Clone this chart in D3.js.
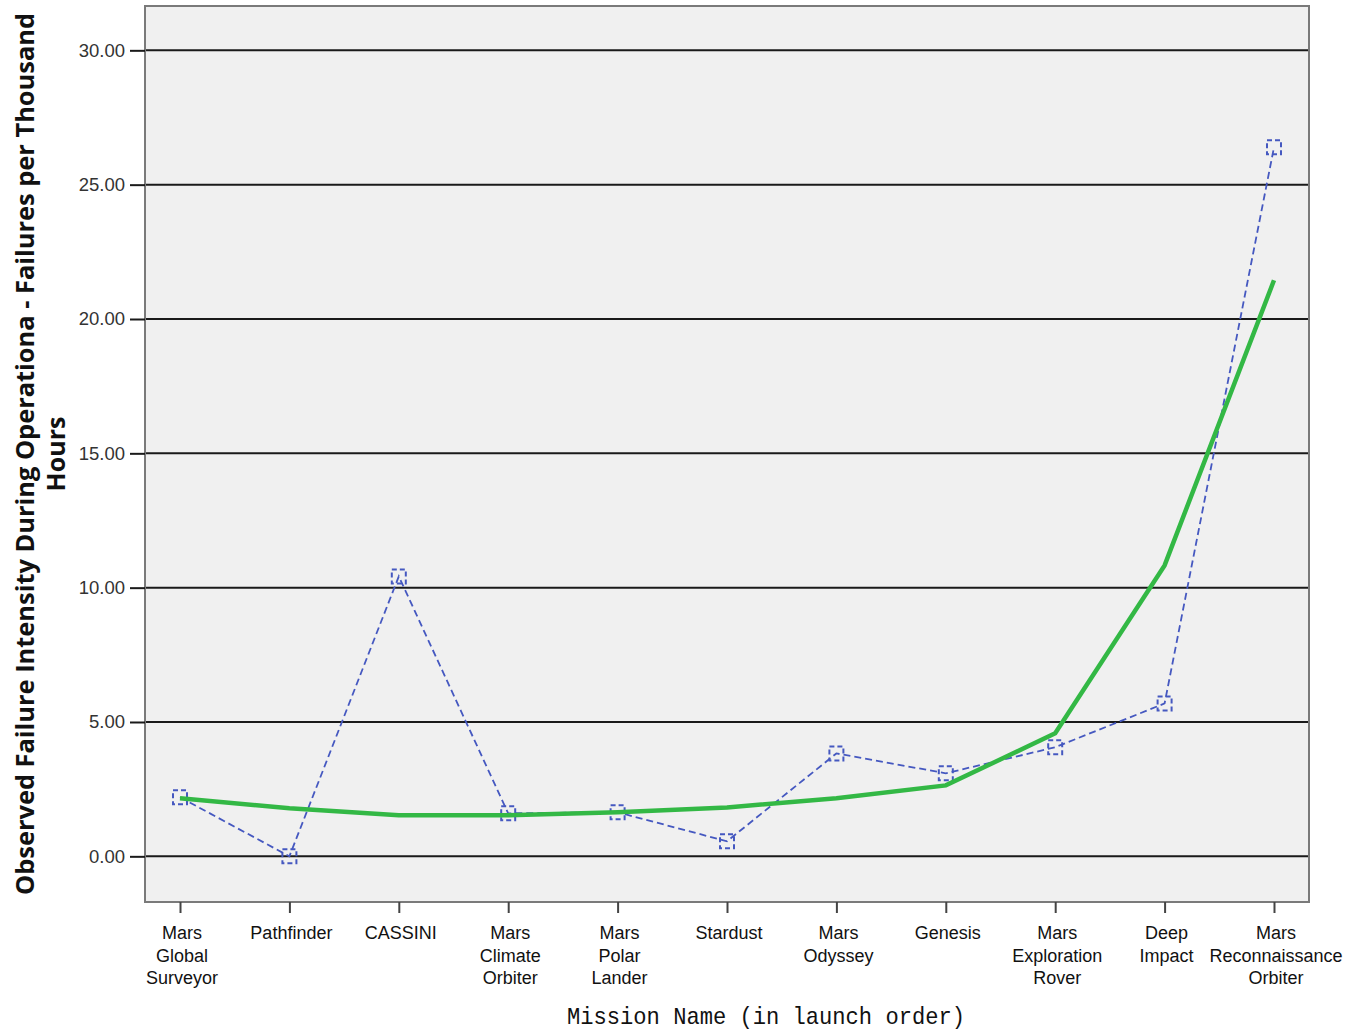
<!DOCTYPE html>
<html>
<head>
<meta charset="utf-8">
<script src="https://cdn.jsdelivr.net/npm/d3@7"></script>
<style>
  html, body { margin: 0; padding: 0; background: #ffffff; }
  svg { display: block; }
</style>
</head>
<body>
<svg id="chart" width="1348" height="1031"></svg>
<script>
// Missions in launch order
const missions = [
  ["Mars", "Global", "Surveyor"],
  ["Pathfinder"],
  ["CASSINI"],
  ["Mars", "Climate", "Orbiter"],
  ["Mars", "Polar", "Lander"],
  ["Stardust"],
  ["Mars", "Odyssey"],
  ["Genesis"],
  ["Mars", "Exploration", "Rover"],
  ["Deep", "Impact"],
  ["Mars", "Reconnaissance", "Orbiter"]
];
const missionKeys = missions.map(m => m.join(" "));

// Observed failure intensity (failures per thousand operational hours)
const observed = [2.20, 0.00, 10.42, 1.60, 1.64, 0.56, 3.83, 3.09, 4.06, 5.69, 26.39];
// Fitted trend
const fitted = [2.16, 1.79, 1.53, 1.53, 1.64, 1.82, 2.16, 2.64, 4.58, 10.83, 21.44];

const yTicks = [0, 5, 10, 15, 20, 25, 30];

const plot = { left: 145, right: 1309, top: 6, bottom: 902 };

const svg = d3.select("#chart");

const x = d3.scalePoint()
  .domain(missionKeys)
  .range([plot.left, plot.right])
  .padding(0.32);

const y = d3.scaleLinear()
  .domain([-1.7, 31.65])
  .range([plot.bottom, plot.top]);

// Plot background
svg.append("rect")
  .attr("x", plot.left).attr("y", plot.top)
  .attr("width", plot.right - plot.left)
  .attr("height", plot.bottom - plot.top)
  .attr("fill", "#f0f0f0");

// Horizontal grid lines
svg.append("g")
  .selectAll("line")
  .data(yTicks)
  .join("line")
  .attr("x1", plot.left).attr("x2", plot.right)
  .attr("y1", d => y(d)).attr("y2", d => y(d))
  .attr("stroke", "#1a1a1a")
  .attr("stroke-width", 2);

// Plot frame
svg.append("rect")
  .attr("x", plot.left).attr("y", plot.top)
  .attr("width", plot.right - plot.left)
  .attr("height", plot.bottom - plot.top)
  .attr("fill", "none")
  .attr("stroke", "#7a7a7a")
  .attr("stroke-width", 2);

// Y axis
const yAxis = d3.axisLeft(y)
  .tickValues(yTicks)
  .tickFormat(d3.format(".2f"))
  .tickSize(15)
  .tickPadding(5);
const gy = svg.append("g")
  .attr("transform", `translate(${plot.left},0)`)
  .call(yAxis);
gy.select(".domain").remove();
gy.selectAll(".tick line").attr("stroke", "#1a1a1a").attr("stroke-width", 2);
gy.selectAll(".tick text")
  .attr("fill", "#333")
  .style("font-family", "'Liberation Sans', Arial, sans-serif")
  .style("font-size", "18.5px");

// X axis
const xAxis = d3.axisBottom(x).tickSize(11).tickFormat("");
const gx = svg.append("g")
  .attr("transform", `translate(0,${plot.bottom})`)
  .call(xAxis);
gx.select(".domain").remove();
gx.selectAll(".tick line").attr("stroke", "#444").attr("stroke-width", 2);

// Multi-line category labels
const labels = svg.append("g")
  .style("font-family", "'Liberation Sans', Arial, sans-serif")
  .style("font-size", "18px")
  .attr("fill", "#111");
missions.forEach((lines, i) => {
  const cx = x(missionKeys[i]) + 2;
  const t = labels.append("text")
    .attr("text-anchor", "middle")
    .attr("x", cx)
    .attr("y", 939);
  lines.forEach((ln, j) => {
    t.append("tspan")
      .attr("x", cx)
      .attr("dy", j === 0 ? 0 : 22.5)
      .text(ln);
  });
});

// Observed series: dashed line with dashed square markers
const pts = observed.map((v, i) => [x(missionKeys[i]), y(v)]);
const blue = "#4558c0";
svg.append("path")
  .attr("d", d3.line()(pts))
  .attr("fill", "none")
  .attr("stroke", blue)
  .attr("stroke-width", 1.8)
  .attr("stroke-dasharray", "7,4");

svg.append("g")
  .selectAll("rect")
  .data(observed)
  .join("rect")
  .attr("x", (d, i) => x(missionKeys[i]) - 7)
  .attr("y", d => y(d) - 7)
  .attr("width", 14).attr("height", 14)
  .attr("fill", "none")
  .attr("stroke", blue)
  .attr("stroke-width", 2)
  .attr("stroke-dasharray", "5,3");

// Fitted series: solid green line
const green = "#33b845";
svg.append("path")
  .attr("d", d3.line()(fitted.map((v, i) => [x(missionKeys[i]), y(v)])))
  .attr("fill", "none")
  .attr("stroke", green)
  .attr("stroke-width", 4.5)
  .attr("stroke-linejoin", "miter");

// Axis titles
const midY = (plot.top + plot.bottom) / 2;
svg.append("text")
  .attr("transform", `translate(34,${midY}) rotate(-90)`)
  .attr("text-anchor", "middle")
  .attr("textLength", 882)
  .attr("lengthAdjust", "spacingAndGlyphs")
  .style("font-family", "'Open Sans', 'Noto Sans', sans-serif")
  .style("font-weight", "bold")
  .style("font-size", "25px")
  .attr("fill", "#111")
  .text("Observed Failure Intensity During Operationa - Failures per Thousand");
svg.append("text")
  .attr("transform", `translate(65,${midY}) rotate(-90)`)
  .attr("text-anchor", "middle")
  .style("font-family", "'Open Sans', 'Noto Sans', sans-serif")
  .style("font-weight", "bold")
  .style("font-size", "25px")
  .attr("fill", "#111")
  .text("Hours");

svg.append("text")
  .attr("x", 766)
  .attr("y", 1024)
  .attr("text-anchor", "middle")
  .attr("textLength", 398)
  .attr("lengthAdjust", "spacingAndGlyphs")
  .style("font-family", "'Liberation Mono', monospace")
  .style("font-size", "24px")
  .attr("fill", "#111")
  .text("Mission Name (in launch order)");
</script>
</body>
</html>
